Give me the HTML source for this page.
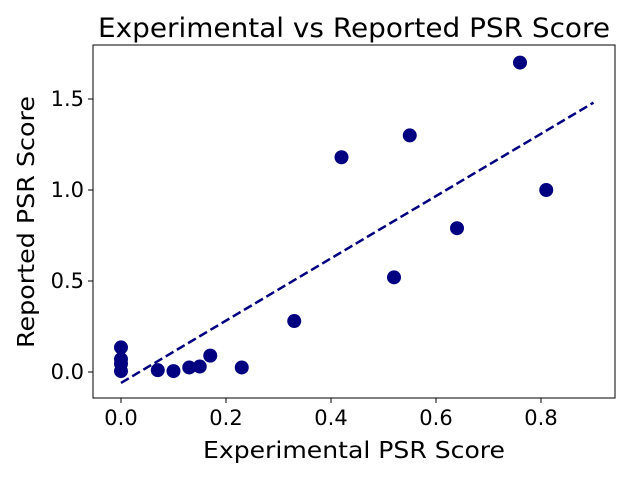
<!DOCTYPE html>
<html><head><style>
body{margin:0;background:#fff;}
svg text{font-family:"DejaVu Sans","Liberation Sans",sans-serif;fill:#000;}
</style></head><body>
<svg id="chart" width="640" height="476">
<rect x="93" y="45" width="522" height="353" fill="none" stroke="#000" stroke-width="1"/>
<g id="marks"></g>
<text x="354" y="37" font-size="27" text-anchor="middle" textLength="512" lengthAdjust="spacingAndGlyphs">Experimental vs Reported PSR Score</text>
<text x="354" y="458" font-size="23" text-anchor="middle" textLength="302" lengthAdjust="spacingAndGlyphs">Experimental PSR Score</text>
<text transform="translate(34,222) rotate(-90)" font-size="23" text-anchor="middle" textLength="252" lengthAdjust="spacingAndGlyphs">Reported PSR Score</text>
</svg>
<script>
const xs=[0,0,0,0,0.07,0.1,0.13,0.15,0.17,0.23,0.33,0.42,0.52,0.55,0.64,0.76,0.81];
const ys=[0.135,0.07,0.045,0.005,0.01,0.005,0.025,0.03,0.09,0.025,0.28,1.18,0.52,1.3,0.79,1.7,1.0];
const fitX=[0,0.9];
const fitY=[-0.06,1.48];
const xTicks=[0,0.2,0.4,0.6,0.8];
const xTickLabels=["0.0","0.2","0.4","0.6","0.8"];
const yTicks=[0,0.5,1,1.5];
const yTickLabels=["0.0","0.5","1.0","1.5"];
const sx=v=>121+v*525, sy=v=>372-v*182;
const NS="http://www.w3.org/2000/svg", g=document.getElementById('marks');
function mk(t,a){const e=document.createElementNS(NS,t);for(const k in a)e.setAttribute(k,a[k]);g.appendChild(e);return e;}
xTicks.forEach((t,i)=>{
 const l=mk('line',{x1:sx(t),x2:sx(t),y1:398,y2:403,stroke:'#000'});
 
 
 const tx=mk('text',{x:sx(t),y:425,'font-size':21,'text-anchor':'middle'});tx.textContent=xTickLabels[i];
 
 
});
yTicks.forEach((t,i)=>{
 const l=mk('line',{x1:88,x2:93,y1:sy(t),y2:sy(t),stroke:'#000'});
 
 
 const tx=mk('text',{x:84,y:sy(t)+7,'font-size':21,'text-anchor':'end'});tx.textContent=yTickLabels[i];
 
 
});
const fl=mk('line',{x1:sx(fitX[0]),y1:sy(fitY[0]),x2:sx(fitX[1]),y2:sy(fitY[1]),stroke:'#000080','stroke-width':2.5,'stroke-dasharray':'9,4'});


xs.forEach((x,i)=>{
 const c=mk('circle',{cx:sx(x),cy:sy(ys[i]),r:7,fill:'#000080'});
 
 
});
</script>
</body></html>
